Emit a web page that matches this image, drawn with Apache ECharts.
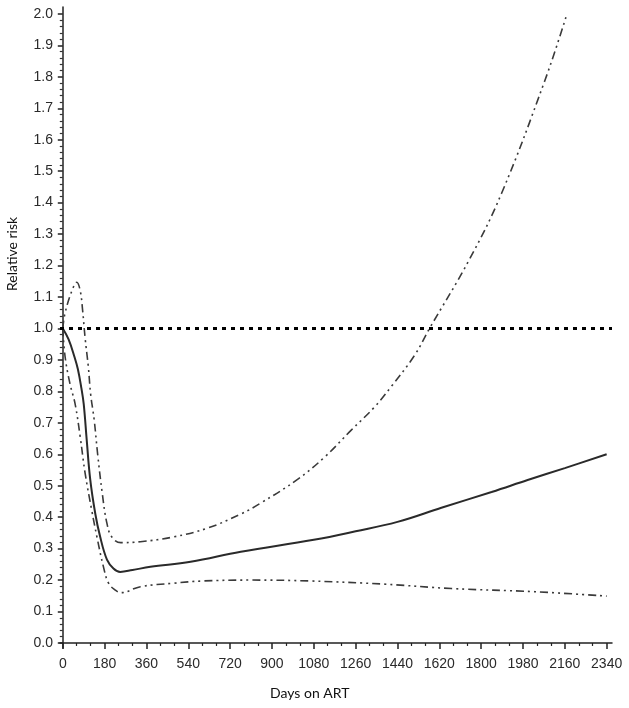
<!DOCTYPE html>
<html>
<head>
<meta charset="utf-8">
<title>Relative risk by days on ART</title>
<script src="https://cdn.jsdelivr.net/npm/echarts@6/dist/echarts.min.js"></script>
<style>
html, body { margin: 0; padding: 0; background: #fff; }
#chart { width: 629px; height: 708px; }
</style>
</head>
<body>
<div id="chart"></div>
<script>
// days -- 抗病毒治疗天数 (x)
// rr -- 相对风险 (y)

// 点估计（实线）
var solidDays = [0, 25, 50, 65, 80, 90, 103, 118, 140, 160, 190, 218, 247, 300, 377, 550, 766, 1080, 1260, 1440, 1629, 1845, 2000, 2160, 2340];
var solidRR   = [1.0, 0.965, 0.91, 0.87, 0.81, 0.76, 0.645, 0.52, 0.41, 0.34, 0.265, 0.237, 0.226, 0.232, 0.242, 0.258, 0.29, 0.328, 0.355, 0.385, 0.43, 0.48, 0.518, 0.556, 0.60];

// 置信区间上限
var upperDays = [0, 10, 43, 60, 75, 85, 96, 110, 120, 135, 150, 170, 190, 211, 250, 334, 476, 622, 766, 852, 1010, 1125, 1240, 1341, 1413, 1514, 1578, 1750, 1888, 2075, 2165];
var upperRR   = [1.0, 1.05, 1.127, 1.147, 1.12, 1.06, 0.97, 0.877, 0.79, 0.71, 0.60, 0.475, 0.38, 0.337, 0.319, 0.322, 0.337, 0.365, 0.41, 0.445, 0.52, 0.59, 0.676, 0.75, 0.815, 0.915, 1.0, 1.22, 1.43, 1.79, 1.99];

// 置信区间下限
var lowerDays = [0, 10, 31, 53, 75, 96, 125, 147, 175, 197, 226, 250, 334, 477, 600, 809, 1068, 1384, 1672, 2031, 2340];
var lowerRR   = [1.0, 0.91, 0.824, 0.76, 0.655, 0.54, 0.42, 0.337, 0.242, 0.19, 0.168, 0.16, 0.179, 0.19, 0.197, 0.2, 0.197, 0.187, 0.173, 0.163, 0.149];

// 刻度
var xTickDays = [0, 180, 360, 540, 720, 900, 1080, 1260, 1440, 1620, 1800, 1980, 2160, 2340];
var yTickRR = [0, 0.1, 0.2, 0.3, 0.4, 0.5, 0.6, 0.7, 0.8, 0.9, 1.0, 1.1, 1.2, 1.3, 1.4, 1.5, 1.6, 1.7, 1.8, 1.9, 2.0];

var xMin = -12, xMax = 2363;
var yMin = -0.016, yMax = 2.022;

//把天数和数值拼成 [x, y]
function zip(xs, ys) {
	var out = [];
	xs.forEach(function(x, i){ out.push([x, ys[i]]) });
	return out;
}
//次刻度：x每60天，y每0.02
function minorTicks(start, end, step, majorStep) {
	var out = [];
	for (var v = start; v <= end + 1e-9; v += step) {
		var r = Math.round(v / step) * step;
		if (Math.abs(r / majorStep - Math.round(r / majorStep)) > 1e-6) out.push(+r.toFixed(4));
	}
	return out;
}

var labelFont = { fontFamily: 'Arial', fontSize: 14, color: '#2a2a2a' };
var curveStyle = { color: '#3a3a3a', width: 1.6, type: [8, 4, 2, 4, 2, 4] };

var myChart = echarts.init(document.getElementById('chart'), null, { renderer: 'canvas' });

var option = {
	backgroundColor: '#fff',
	animation: false,
	grid: { left: 60, right: 17, top: 7, bottom: 60, containLabel: false },
	xAxis: [{
		type: 'value', min: xMin, max: xMax,
		axisLine: { show: true, lineStyle: { color: '#222', width: 1.5 } },
		axisTick: { show: true, length: 6, customValues: xTickDays, lineStyle: { color: '#222', width: 1.5 } },
		axisLabel: Object.assign({
			customValues: xTickDays, margin: 9,
			formatter: function(v){ return String(v) }
		}, labelFont),
		splitLine: { show: false }
	}, {
		type: 'value', min: xMin, max: xMax, position: 'bottom', offset: 0,
		axisLine: { show: false },
		axisTick: { show: true, length: 3, customValues: minorTicks(0, 2340, 60, 180), lineStyle: { color: '#222', width: 1.2 } },
		axisLabel: { show: false },
		splitLine: { show: false }
	}],
	yAxis: [{
		type: 'value', min: yMin, max: yMax,
		axisLine: { show: true, lineStyle: { color: '#222', width: 1.5 } },
		axisTick: { show: true, length: 5, customValues: yTickRR, lineStyle: { color: '#222', width: 1.5 } },
		axisLabel: Object.assign({
			customValues: yTickRR, margin: 7,
			formatter: function(v){ return v.toFixed(1) }
		}, labelFont),
		splitLine: { show: false }
	}, {
		type: 'value', min: yMin, max: yMax, position: 'left', offset: 0,
		axisLine: { show: false },
		axisTick: { show: true, length: 3, customValues: minorTicks(0, 2.0, 0.02, 0.1), lineStyle: { color: '#333', width: 1.2 } },
		axisLabel: { show: false },
		splitLine: { show: false }
	}],
	series: [{
		name: 'RR', type: 'line', data: zip(solidDays, solidRR),
		showSymbol: false, smooth: 0.4,
		lineStyle: { color: '#2a2a2a', width: 2 },
		markLine: {
			silent: true, symbol: 'none', label: { show: false },
			lineStyle: { color: '#000', width: 3, type: [4, 5] },
			data: [{ yAxis: 1 }]
		}
	}, {
		name: 'upper', type: 'line', data: zip(upperDays, upperRR),
		showSymbol: false, smooth: 0.4,
		lineStyle: curveStyle
	}, {
		name: 'lower', type: 'line', data: zip(lowerDays, lowerRR),
		showSymbol: false, smooth: 0.4,
		lineStyle: curveStyle
	}],
	graphic: [{
		type: 'text', left: 270, top: 686,
		style: { text: 'Days on ART', font: '14px Lato', fill: '#111' }
	}, {
		type: 'text', x: 5, y: 291, rotation: Math.PI / 2,
		style: { text: 'Relative risk', font: '14px Lato', fill: '#111' }
	}]
};
myChart.setOption(option);
</script>
</body>
</html>
